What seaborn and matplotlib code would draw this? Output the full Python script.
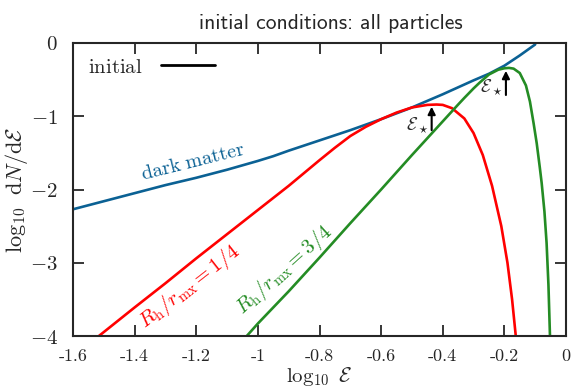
import numpy as np
import pandas as pd
import matplotlib
matplotlib.use("Agg")
import matplotlib.pyplot as plt
from matplotlib.lines import Line2D
import seaborn as sns

# ---- data ----
dm_x = [-1.6, -1.5, -1.4, -1.3, -1.2, -1.1, -1.0, -0.95, -0.9, -0.8, -0.7, -0.6,
        -0.5, -0.4, -0.3, -0.25, -0.2, -0.15, -0.1]
dm_y = [-2.27, -2.16, -2.05, -1.94, -1.84, -1.73, -1.61, -1.545, -1.47, -1.33, -1.19,
        -1.04, -0.88, -0.70, -0.51, -0.42, -0.31, -0.17, -0.02]

r14_x = [-1.516, -1.4, -1.3, -1.2, -1.1, -1.0, -0.9, -0.8, -0.75, -0.7, -0.65, -0.6,
         -0.55, -0.5, -0.45, -0.42, -0.4, -0.37, -0.33, -0.3, -0.27, -0.24, -0.21,
         -0.19, -0.175, -0.163]
r14_y = [-4.0, -3.61, -3.28, -2.94, -2.61, -2.28, -1.95, -1.60, -1.43, -1.27, -1.145, -1.04,
         -0.95, -0.88, -0.845, -0.84, -0.845, -0.89, -1.03, -1.23, -1.53, -1.95, -2.5,
         -3.0, -3.5, -4.0]

r34_x = [-1.036, -1.0, -0.9, -0.8, -0.7, -0.6, -0.5, -0.4, -0.35, -0.33, -0.3, -0.28,
         -0.25, -0.22, -0.2, -0.185, -0.17, -0.15, -0.13, -0.117, -0.105, -0.095, -0.085,
         -0.079, -0.07, -0.063, -0.057, -0.052]
r34_y = [-4.0, -3.83, -3.39, -2.93, -2.46, -2.0, -1.53, -1.07, -0.84, -0.75, -0.62, -0.54,
         -0.43, -0.365, -0.345, -0.34, -0.35, -0.41, -0.58, -0.80, -1.10, -1.37, -1.70,
         -1.91, -2.30, -2.73, -3.3, -4.0]

xticks = [-1.6, -1.4, -1.2, -1.0, -0.8, -0.6, -0.4, -0.2, 0.0]
xticklabels = ["-1.6", "-1.4", "-1.2", "-1", "-0.8", "-0.6", "-0.4", "-0.2", "0"]
yticks = [-4, -3, -2, -1, 0]
yticklabels = [r"$-4$", r"$-3$", r"$-2$", r"$-1$", r"$0$"]

c_dm = "#0b6194"
c_r14 = "#ff0000"
c_r34 = "#248c24"

sns.set_style("ticks")
plt.rcParams["mathtext.fontset"] = "cm"
plt.rcParams["font.family"] = ["DejaVu Serif"]

fig = plt.figure(figsize=(5.71, 3.89), dpi=100)
ax = fig.add_axes([73 / 571, 1 - 336 / 389, (566 - 73) / 571, (336 - 43) / 389])

df_dm = pd.DataFrame({"x": dm_x, "y": dm_y})
df_14 = pd.DataFrame({"x": r14_x, "y": r14_y})
df_34 = pd.DataFrame({"x": r34_x, "y": r34_y})

sns.lineplot(data=df_dm, x="x", y="y", ax=ax, color=c_dm, lw=1.9, estimator=None, sort=False)
sns.lineplot(data=df_14, x="x", y="y", ax=ax, color=c_r14, lw=1.9, estimator=None, sort=False)
sns.lineplot(data=df_34, x="x", y="y", ax=ax, color=c_r34, lw=1.9, estimator=None, sort=False)

ax.set_xlim(-1.6, 0)
ax.set_ylim(-4, 0)
ax.set_xticks(xticks)
ax.set_xticklabels(xticklabels, family="cmr10", fontsize=13)
ax.set_yticks(yticks)
ax.set_yticklabels(yticklabels, fontsize=15)
ax.tick_params(direction="in", length=8, width=1.3, top=True, right=True)
ax.tick_params(axis="x", pad=9)
ax.tick_params(axis="y", pad=11)
for s in ax.spines.values():
    s.set_linewidth(1.5)
    s.set_visible(True)

ax.set_xlabel(r"$\log_{10}\ \mathcal{E}$", fontsize=15, labelpad=1)
ax.set_ylabel(r"$\log_{10}\;\,\mathrm{d}N/\mathrm{d}\mathcal{E}$", fontsize=16, labelpad=0)
ax.set_title("initial conditions: all particles", family="cmss10", fontsize=15.5,
             pad=10, x=0.523)

# curve labels
ax.text(-1.21, -1.62, r"$\mathrm{dark\ matter}$", color=c_dm, fontsize=14.5,
        rotation=14, ha="center", va="center")
ax.text(-1.221, -3.33, r"$R_{\rm h}/r_{\rm mx}=1/4$", color=c_r14, fontsize=15,
        rotation=38, ha="center", va="center")
ax.text(-0.915, -3.10, r"$R_{\rm h}/r_{\rm mx}=3/4$", color=c_r34, fontsize=15,
        rotation=42, ha="center", va="center")

# E_star arrows
ax.annotate("", xy=(-0.436, -0.87), xytext=(-0.436, -1.19),
            arrowprops=dict(arrowstyle="-|>", color="k", lw=1.5, mutation_scale=11,
                            shrinkA=0, shrinkB=0))
ax.text(-0.483, -1.12, r"$\mathcal{E}_\star$", fontsize=13, ha="center", va="center")
ax.annotate("", xy=(-0.195, -0.38), xytext=(-0.195, -0.71),
            arrowprops=dict(arrowstyle="-|>", color="k", lw=1.5, mutation_scale=11,
                            shrinkA=0, shrinkB=0))
ax.text(-0.243, -0.60, r"$\mathcal{E}_\star$", fontsize=13, ha="center", va="center")

leg = ax.legend(handles=[Line2D([], [], color="k", lw=2)], labels=[r"$\mathrm{initial}$"],
                loc="upper left", frameon=False, markerfirst=False, fontsize=15,
                handlelength=2.6, handletextpad=0.9, borderaxespad=0.3,
                bbox_to_anchor=(0.0, 1.0))

fig.savefig("out.png", dpi=100)
